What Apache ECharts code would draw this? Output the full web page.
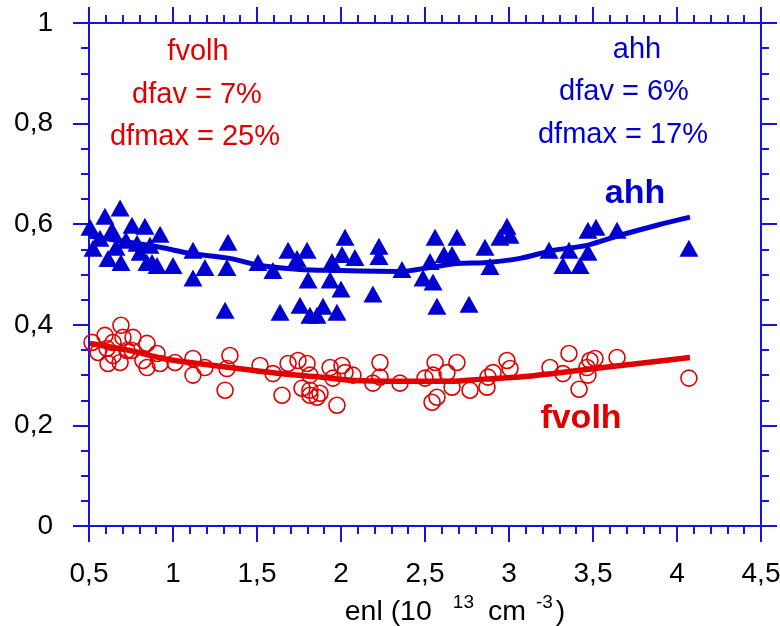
<!DOCTYPE html>
<html>
<head>
<meta charset="utf-8">
<script src="https://cdn.jsdelivr.net/npm/echarts@6/dist/echarts.min.js"></script>
<style>
html,body{margin:0;padding:0;background:#fff;}
#chart{width:780px;height:626px;}
</style>
</head>
<body>
<div id="chart"></div>
<script>
// ahh (blue triangles): [enl, value]
const ahhPoints = [
  [0.506,0.594],[0.524,0.552],[0.595,0.616],[0.685,0.632],[0.756,0.598],[0.833,0.596],
  [0.923,0.580],[0.613,0.532],[0.690,0.524],[0.863,0.558],[0.845,0.524],[0.905,0.518],
  [1.000,0.518],[1.119,0.548],[1.190,0.514],[1.119,0.493],[1.327,0.564],[1.321,0.514],
  [1.310,0.429],[1.506,0.524],[1.595,0.508],[1.685,0.548],[1.738,0.532],[1.798,0.548],
  [1.804,0.489],[1.637,0.425],[1.756,0.439],[1.815,0.419],[1.857,0.419],[1.946,0.526],
  [2.024,0.574],[2.006,0.540],[2.083,0.534],[1.935,0.489],[2.000,0.471],[2.190,0.461],
  [2.226,0.556],[2.226,0.536],[2.363,0.510],[2.530,0.526],[2.488,0.493],[2.548,0.485],
  [2.560,0.574],[2.613,0.540],[2.661,0.540],[2.690,0.574],[2.571,0.437],[2.762,0.441],
  [2.857,0.554],[2.887,0.516],[2.946,0.574],[2.988,0.596],[3.006,0.578],[1.893,0.437],
  [1.976,0.425],[3.238,0.548],[3.321,0.518],[3.357,0.548],[3.423,0.518],[3.470,0.544],
  [3.470,0.588],[3.518,0.594],[3.643,0.588],[4.071,0.552],
  [0.565,0.572],[0.637,0.588],[0.720,0.568],[0.786,0.562],[0.804,0.544],[0.875,0.524],[0.661,0.554]
];
// ahh fit curve
const ahhFit = [
  [0.506,0.576],[0.923,0.554],[1.101,0.542],[1.339,0.532],[1.518,0.518],[1.756,0.510],
  [1.952,0.508],[2.351,0.506],[2.530,0.514],[2.690,0.522],[2.869,0.524],[3.065,0.532],
  [3.262,0.548],[3.464,0.558],[3.661,0.578],[3.881,0.598],[4.077,0.614]
];
// fvolh (red open circles)
const fvolhPoints = [
  [0.518,0.365],[0.595,0.379],[0.690,0.399],[0.643,0.365],[0.607,0.353],[0.613,0.323],
  [0.685,0.325],[0.702,0.375],[0.762,0.375],[0.756,0.349],[0.845,0.363],[0.821,0.329],
  [0.905,0.343],[0.845,0.315],[0.923,0.323],[1.012,0.325],[1.119,0.333],[1.119,0.300],
  [1.190,0.315],[1.339,0.339],[1.321,0.313],[1.310,0.270],[1.518,0.319],[1.595,0.303],
  [1.649,0.260],[1.685,0.323],[1.744,0.329],[1.798,0.323],[1.815,0.300],[1.768,0.274],
  [1.815,0.260],[1.857,0.256],[1.815,0.270],[1.875,0.264],[1.935,0.315],[1.952,0.294],
  [2.006,0.319],[2.024,0.305],[2.071,0.300],[1.976,0.240],[2.232,0.325],[2.232,0.296],
  [2.190,0.284],[2.351,0.284],[2.500,0.294],[2.560,0.325],[2.548,0.300],[2.571,0.256],
  [2.542,0.246],[2.631,0.305],[2.690,0.325],[2.661,0.276],[2.768,0.270],[2.869,0.276],
  [2.875,0.296],[2.905,0.305],[2.988,0.329],[3.006,0.313],[3.244,0.315],[3.321,0.303],
  [3.357,0.343],[3.417,0.272],[3.464,0.315],[3.470,0.300],[3.482,0.329],[3.512,0.333],
  [3.643,0.335],[4.071,0.294],[0.554,0.345],[0.643,0.339],[0.726,0.349]
];
// fvolh fit curve
const fvolhFit = [
  [0.506,0.363],[0.744,0.349],[0.940,0.333],[1.101,0.325],[1.339,0.315],[1.637,0.303],
  [1.875,0.296],[2.054,0.290],[2.351,0.288],[2.649,0.288],[2.845,0.292],[3.065,0.296],
  [3.262,0.303],[3.560,0.315],[4.077,0.335]
];
const xRange = [0.5, 4.5, 0.5];
const yRange = [0, 1, 0.2];
const redNotes = ['fvolh', 'dfav = 7%', 'dfmax = 25%'];
const blueNotes = ['ahh', 'dfav = 6%', 'dfmax = 17%'];

const BLUE = '#0000d0';
const AXIS_BLUE = '#1414dc';
const RED = '#e00000';
const FONT = "'Liberation Sans', Arial, sans-serif";

const fmt = v => String(+v.toFixed(2)).replace('.', ',');

function axisCommon(showLabel) {
  return {
    axisLine: { onZero: false, lineStyle: { color: AXIS_BLUE, width: 2 } },
    axisTick: { show: true, inside: false, length: 16, lineStyle: { color: AXIS_BLUE, width: 2 } },
    minorTick: { show: true, length: 8, lineStyle: { color: AXIS_BLUE, width: 2 } },
    splitLine: { show: false },
    minorSplitLine: { show: false },
    axisLabel: showLabel ? { show: true, color: '#000', fontSize: 28, fontFamily: FONT, formatter: fmt } : { show: false }
  };
}

const chart = echarts.init(document.getElementById('chart'), null, { renderer: 'canvas' });

const xBottom = Object.assign(axisCommon(true), {
  type: 'value', position: 'bottom', min: xRange[0], max: xRange[1], interval: xRange[2],
  name: '{m|enl (10}{s|13}{m|cm}{s2|-3}{m2|)}',
  nameLocation: 'middle', nameGap: 64,
  nameTextStyle: {
    padding: [0, 0, 0, 60],
    rich: {
      m: { fontSize: 28.5, fontFamily: FONT, color: '#000', lineHeight: 34, verticalAlign: 'bottom' },
      m2: { fontSize: 28.5, fontFamily: FONT, color: '#000', lineHeight: 34, verticalAlign: 'bottom', padding: [0,0,0,3] },
      s: { fontSize: 19, fontFamily: FONT, color: '#000', lineHeight: 19, verticalAlign: 'top', padding: [0, 14, 0, 21] },
      s2: { fontSize: 19, fontFamily: FONT, color: '#000', lineHeight: 19, verticalAlign: 'top', padding: [0, 0, 0, 10] }
    }
  }
});
xBottom.minorTick.splitNumber = 5;
xBottom.axisLabel.margin = 34;

const xTop = Object.assign(axisCommon(false), {
  type: 'value', position: 'top', min: xRange[0], max: xRange[1], interval: xRange[2]
});
xTop.minorTick.splitNumber = 5;

const yLeft = Object.assign(axisCommon(true), {
  type: 'value', position: 'left', min: yRange[0], max: yRange[1], interval: yRange[2]
});
yLeft.minorTick.splitNumber = 4;
yLeft.axisLabel.margin = 36;

const yRight = Object.assign(axisCommon(false), {
  type: 'value', position: 'right', min: yRange[0], max: yRange[1], interval: yRange[2]
});
yRight.minorTick.splitNumber = 4;

function noteTexts(lines, cxs, cys, color) {
  return lines.map((t, i) => ({
    type: 'text', x: cxs[i], y: cys[i],
    style: { text: t, fill: color, font: '29px ' + FONT, align: 'center', verticalAlign: 'middle' },
    z: 100
  }));
}

const option = {
  animation: false,
  backgroundColor: '#fff',
  grid: { left: 89, right: 19, top: 23, bottom: 100, containLabel: false, outerBoundsMode: 'none' },
  xAxis: [xBottom, xTop],
  yAxis: [yLeft, yRight],
  series: [
    {
      type: 'scatter', name: 'ahh', data: ahhPoints, xAxisIndex: 0, yAxisIndex: 0,
      symbol: 'triangle', symbolSize: [19, 17],
      itemStyle: { color: BLUE, opacity: 1 }
    },
    {
      type: 'scatter', name: 'fvolh', data: fvolhPoints, xAxisIndex: 0, yAxisIndex: 0,
      symbol: 'circle', symbolSize: 16,
      itemStyle: { color: 'rgba(0,0,0,0)', borderColor: RED, borderWidth: 1.6, opacity: 1 }
    },
    {
      type: 'line', name: 'ahh fit', data: ahhFit, xAxisIndex: 0, yAxisIndex: 0,
      smooth: 0.3, showSymbol: false, lineStyle: { color: BLUE, width: 5 }
    },
    {
      type: 'line', name: 'fvolh fit', data: fvolhFit, xAxisIndex: 0, yAxisIndex: 0,
      smooth: 0.3, showSymbol: false, lineStyle: { color: RED, width: 5.5 }
    }
  ],
  graphic: [].concat(
    noteTexts(redNotes, [198, 197, 195], [52, 95, 137], RED),
    noteTexts(blueNotes, [637, 624, 623], [50, 92, 135], BLUE),
    [
      { type: 'text', x: 635, y: 194, z: 100,
        style: { text: 'ahh', fill: BLUE, font: 'bold 34px ' + FONT, align: 'center', verticalAlign: 'middle' } },
      { type: 'text', x: 581, y: 419, z: 100,
        style: { text: 'fvolh', fill: RED, font: 'bold 34px ' + FONT, align: 'center', verticalAlign: 'middle' } }
    ]
  )
};
chart.setOption(option);
</script>
</body>
</html>
